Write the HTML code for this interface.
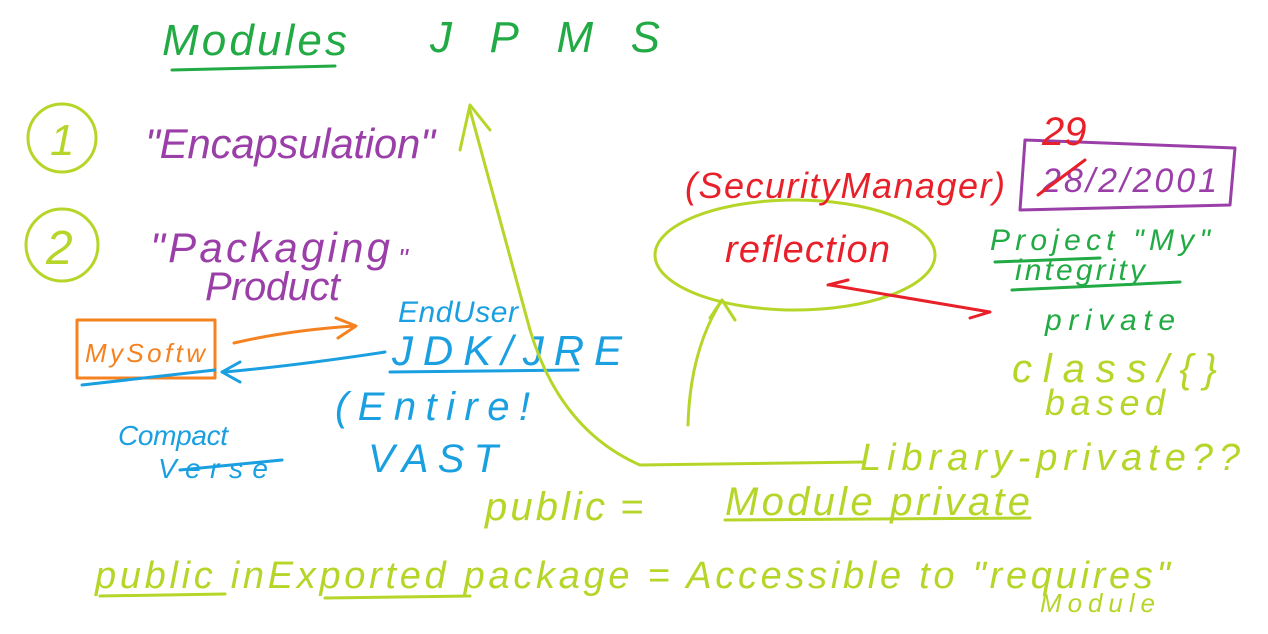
<!DOCTYPE html>
<html><head><meta charset="utf-8"><style>
html,body{margin:0;padding:0;background:#fff;width:1268px;height:634px;overflow:hidden}
svg text{font-family:"Liberation Sans",sans-serif;font-style:italic}
</style></head><body>
<svg width="1268" height="634" viewBox="0 0 1268 634" xmlns="http://www.w3.org/2000/svg" fill="none" stroke-linecap="round" stroke-linejoin="round">
<text x="162" y="55" font-size="44" fill="#22aa44" stroke="none" textLength="185">Modules</text>
<path d="M172 70 L335 66" stroke="#22aa44" stroke-width="3"/>
<text x="430" y="52" font-size="44" fill="#22aa44" stroke="none" textLength="230">JPMS</text>
<circle cx="62" cy="138" r="34" stroke="#b5d629" stroke-width="3"/>
<text x="50" y="155" font-size="44" fill="#b5d629" stroke="none">1</text>
<circle cx="62" cy="245" r="36" stroke="#b5d629" stroke-width="3"/>
<text x="46" y="264" font-size="48" fill="#b5d629" stroke="none">2</text>
<text x="145" y="158" font-size="42" fill="#9b3fa8" stroke="none" textLength="290">"Encapsulation"</text>
<text x="150" y="262" font-size="42" fill="#9b3fa8" stroke="none" textLength="240">"Packaging</text>
<text x="398" y="268" font-size="28" fill="#9b3fa8" stroke="none">"</text>
<text x="205" y="300" font-size="40" fill="#9b3fa8" stroke="none" textLength="135">Product</text>
<rect x="77" y="320" width="138" height="58" stroke="#f58220" stroke-width="3"/>
<text x="85" y="362" font-size="26" fill="#f58220" stroke="none" textLength="120">MySoftw</text>
<path d="M234 343 Q290 330 355 326 M336 318 L356 326 L338 338" stroke="#f58220" stroke-width="3"/>
<path d="M82 385 L215 370" stroke="#1a9fe0" stroke-width="3"/>
<path d="M225 372 Q300 365 385 352 M222 372 L240 362 M222 372 L240 382" stroke="#1a9fe0" stroke-width="3"/>
<text x="398" y="322" font-size="30" fill="#1a9fe0" stroke="none" textLength="120">EndUser</text>
<text x="392" y="365" font-size="42" fill="#1a9fe0" stroke="none" textLength="230">JDK/JRE</text>
<path d="M390 372 L578 370" stroke="#1a9fe0" stroke-width="3"/>
<text x="335" y="420" font-size="40" fill="#1a9fe0" stroke="none" textLength="195">(Entire!</text>
<text x="368" y="472" font-size="40" fill="#1a9fe0" stroke="none" textLength="130">VAST</text>
<text x="118" y="445" font-size="28" fill="#1a9fe0" stroke="none" textLength="110">Compact</text>
<text x="158" y="478" font-size="28" fill="#1a9fe0" stroke="none" textLength="110">Verse</text>
<path d="M180 470 L282 460" stroke="#1a9fe0" stroke-width="3"/>
<path d="M865 462 L640 465 Q560 430 530 330 Q500 220 470 110 M460 150 L470 105 L490 130" stroke="#b5d629" stroke-width="3"/>
<path d="M688 425 Q690 350 722 300 M710 318 L722 300 L735 320" stroke="#b5d629" stroke-width="3"/>
<ellipse cx="795" cy="255" rx="140" ry="55" stroke="#b5d629" stroke-width="3"/>
<text x="725" y="262" font-size="38" fill="#e8202a" stroke="none" textLength="165">reflection</text>
<text x="685" y="198" font-size="36" fill="#e8202a" stroke="none" textLength="320">(SecurityManager)</text>
<path d="M830 285 L990 312 M828 285 L848 280 M990 312 L970 318" stroke="#e8202a" stroke-width="3"/>
<path d="M1025 140 L1235 148 L1230 205 L1020 210 Z" stroke="#9b3fa8" stroke-width="3"/>
<text x="1042" y="192" font-size="34" fill="#9b3fa8" stroke="none" textLength="175">28/2/2001</text>
<text x="1042" y="145" font-size="40" fill="#e8202a" stroke="none">29</text>
<path d="M1038 195 L1085 160" stroke="#e8202a" stroke-width="3"/>
<text x="990" y="250" font-size="30" fill="#22aa44" stroke="none" textLength="220">Project "My"</text>
<text x="1015" y="280" font-size="30" fill="#22aa44" stroke="none" textLength="130">integrity</text>
<path d="M995 262 L1100 258 M1012 290 L1180 282" stroke="#22aa44" stroke-width="3"/>
<text x="1045" y="330" font-size="30" fill="#22aa44" stroke="none" textLength="130">private</text>
<text x="1012" y="382" font-size="40" fill="#b5d629" stroke="none" textLength="205">class/{}</text>
<text x="1045" y="415" font-size="36" fill="#b5d629" stroke="none" textLength="120">based</text>
<text x="860" y="470" font-size="38" fill="#b5d629" stroke="none" textLength="380">Library-private??</text>
<text x="485" y="520" font-size="40" fill="#b5d629" stroke="none" textLength="120">public</text>
<text x="620" y="520" font-size="40" fill="#b5d629" stroke="none">=</text>
<text x="725" y="515" font-size="40" fill="#b5d629" stroke="none" textLength="305">Module private</text>
<path d="M725 520 L1030 518" stroke="#b5d629" stroke-width="3"/>
<text x="95" y="588" font-size="38" fill="#b5d629" stroke="none" textLength="1075">public inExported package = Accessible to "requires"</text>
<path d="M100 596 L225 594 M325 598 L470 596" stroke="#b5d629" stroke-width="3"/>
<text x="1040" y="612" font-size="26" fill="#b5d629" stroke="none" textLength="115">Module</text>
</svg>
</body></html>
